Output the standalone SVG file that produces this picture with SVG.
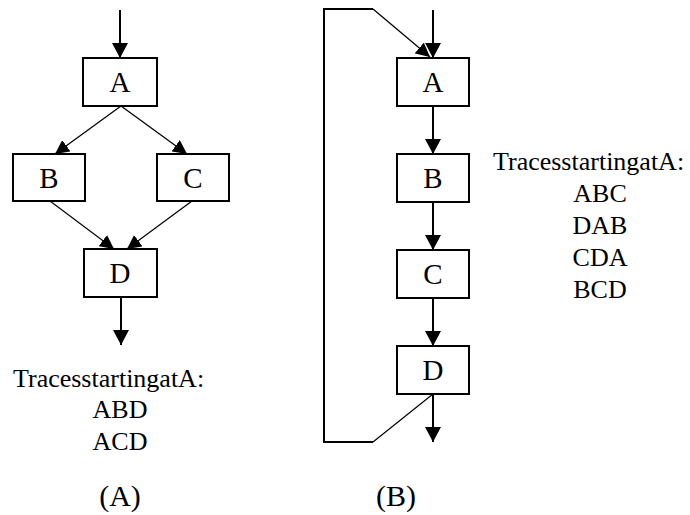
<svg xmlns="http://www.w3.org/2000/svg" width="690" height="515" viewBox="0 0 690 515">
<style>
text{font-family:'Liberation Serif','DejaVu Serif','Noto Serif',serif;fill:#000}
.box{fill:#fff;stroke:#000;stroke-width:2}
.lbl{font-size:29px;text-anchor:middle}
.txt{font-size:26px}
.mid{text-anchor:middle}
.cap{font-size:30px;text-anchor:middle}
.thick{fill:none;stroke:#000;stroke-width:2}
.thin{fill:none;stroke:#000;stroke-width:1.2}
</style>
<defs>
<marker id="arr" viewBox="0 0 15 16" refX="15" refY="8" markerWidth="15" markerHeight="16" markerUnits="userSpaceOnUse" orient="auto">
<path d="M0,0 L15,8 L0,16 z" fill="#000"/>
</marker>
<marker id="arrs" viewBox="0 0 14 14" refX="14" refY="7" markerWidth="14" markerHeight="14" markerUnits="userSpaceOnUse" orient="auto">
<path d="M0,0 L14,7 L0,14 z" fill="#000"/>
</marker>
</defs>
<rect width="690" height="515" fill="#fff"/>
<g id="connectors">
<line class="thick" x1="120" y1="10" x2="120" y2="58" marker-end="url(#arr)"/>
<line class="thin" x1="121" y1="106" x2="55" y2="154" marker-end="url(#arrs)"/>
<line class="thin" x1="121" y1="106" x2="187" y2="154" marker-end="url(#arrs)"/>
<line class="thin" x1="50" y1="201" x2="114" y2="249" marker-end="url(#arrs)"/>
<line class="thin" x1="192" y1="201" x2="127" y2="249" marker-end="url(#arrs)"/>
<line class="thick" x1="121" y1="297" x2="121" y2="345" marker-end="url(#arr)"/>
<line class="thick" x1="433" y1="10" x2="433" y2="58" marker-end="url(#arr)"/>
<line class="thick" x1="433" y1="106" x2="433" y2="154" marker-end="url(#arr)"/>
<line class="thick" x1="433" y1="202" x2="433" y2="250" marker-end="url(#arr)"/>
<line class="thick" x1="433" y1="298" x2="433" y2="346" marker-end="url(#arr)"/>
<line class="thick" x1="433" y1="394" x2="433" y2="442" marker-end="url(#arr)"/>
<polyline class="thin" points="433,394 373,442"/>
<polyline class="thick" points="373,442 324,442 324,9 373,9"/>
<polyline class="thin" points="373,9 430,57" marker-end="url(#arrs)"/>
</g>
<g id="nodeA1"><rect class="box" x="83" y="58" width="74" height="48"/><text class="lbl" x="120" y="92" font-family="Liberation Serif">A</text></g>
<g id="nodeB1"><rect class="box" x="13" y="154" width="72" height="47"/><text class="lbl" x="49" y="188">B</text></g>
<g id="nodeC1"><rect class="box" x="157" y="154" width="72" height="47"/><text class="lbl" x="193" y="188">C</text></g>
<g id="nodeD1"><rect class="box" x="84" y="249" width="73" height="48"/><text class="lbl" x="120" y="283">D</text></g>
<g id="nodeA2"><rect class="box" x="397" y="58" width="72" height="48"/><text class="lbl" x="433" y="92">A</text></g>
<g id="nodeB2"><rect class="box" x="397" y="154" width="72" height="48"/><text class="lbl" x="433" y="188">B</text></g>
<g id="nodeC2"><rect class="box" x="397" y="250" width="72" height="48"/><text class="lbl" x="433" y="284">C</text></g>
<g id="nodeD2"><rect class="box" x="397" y="346" width="72" height="48"/><text class="lbl" x="433" y="380">D</text></g>
<g id="tracesA">
<text class="txt" x="13" y="387">TracesstartingatA:</text>
<text class="txt mid" x="120" y="418">ABD</text>
<text class="txt mid" x="120" y="450">ACD</text>
</g>
<g id="tracesB">
<text class="txt" x="493" y="170">TracesstartingatA:</text>
<text class="txt mid" x="600" y="202">ABC</text>
<text class="txt mid" x="600" y="234">DAB</text>
<text class="txt mid" x="600" y="266">CDA</text>
<text class="txt mid" x="600" y="298">BCD</text>
</g>
<g id="captions">
<text class="cap" x="120" y="506">(A)</text>
<text class="cap" x="396" y="506">(B)</text>
</g>
</svg>
